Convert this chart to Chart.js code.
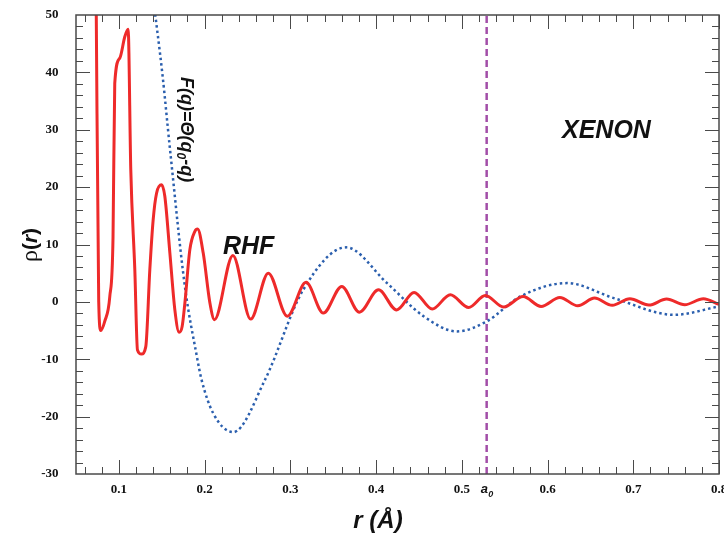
<!DOCTYPE html>
<html>
<head>
<meta charset="utf-8">
<script src="https://cdn.jsdelivr.net/npm/chart.js@4.4.1/dist/chart.umd.min.js"></script>
<style>
  html, body { margin: 0; padding: 0; background: #fff; }
  canvas { display: block; }
</style>
</head>
<body>
<canvas id="rho-chart" width="724" height="533"></canvas>
<script>
// RHF density oscillations
const rhfR = [0.0735, 0.0765, 0.0789, 0.0835, 0.0894, 0.0932, 0.0952, 0.1011, 0.1069, 0.1108,
    0.1139, 0.1186, 0.1217, 0.1264, 0.1314, 0.1361, 0.1400, 0.1439, 0.1498, 0.1536,
    0.1595, 0.1653, 0.1703, 0.1738, 0.1770, 0.1828, 0.1887, 0.1918, 0.1984, 0.2062,
    0.2115, 0.2330, 0.2537, 0.2743, 0.2965, 0.3183, 0.3385, 0.3600, 0.3806, 0.4028,
    0.4240, 0.4443, 0.4655, 0.4866, 0.5080, 0.5274, 0.5488, 0.5715, 0.5925, 0.6143,
    0.6353, 0.6548, 0.6755, 0.6960, 0.7182, 0.7389, 0.7600, 0.7818, 0.8000]
const rhfRho = [53, 0.0, -5.0, -3.4, 0.9, 11.4, 38.1, 42.5, 46.2, 47.5,
    23.0, 5.6, -8.4, -9.1, -7.8, 5.6, 14.3, 18.9, 20.4, 18.4,
    8.5, -1.4, -5.3, -4.3, -0.2, 9.1, 12.3, 12.7, 8.5, -0.2,
    -3.1, 8.1, -3.0, 5.0, -2.5, 3.4, -1.95, 2.7, -1.8, 2.1,
    -1.4, 1.65, -1.25, 1.25, -0.98, 1.11, -0.9, 0.94, -0.8, 0.77,
    -0.68, 0.66, -0.6, 0.54, -0.56, 0.49, -0.5, 0.54, -0.45]

// step function F(q) = Theta(q0 - q) curve
const stepR = [0.1400, 0.1510, 0.1595, 0.1770, 0.1907, 0.1965, 0.2100, 0.2334, 0.2704, 0.3150,
    0.3651, 0.4126, 0.4554, 0.4944, 0.5290, 0.5683, 0.6229, 0.6773, 0.7474, 0.8000]
const stepRho = [53, 39.4, 26.8, 2.7, -9.3, -13.6, -19.4, -22.7, -13.6, 2.1,
    9.5, 3.3, -2.5, -5.15, -3.4, 0.94, 3.27, 0.66, -2.25, -0.8]

const bohrRadius = 0.529
const xTicks = [0.1, 0.2, 0.3, 0.4, 0.5, 0.6, 0.7, 0.8]
const yTicks = [-30, -20, -10, 0, 10, 20, 30, 40, 50]

const toPoints = (xs, ys) => xs.map((x, i) => ({ x: x, y: ys[i] }))

const frameColor = '#4a4a4a'

const decorPlugin = {
    id: 'decor',
    afterDatasetsDraw(chart) {
        const ctx = chart.ctx
        const a = chart.chartArea
        const xs = chart.scales.x
        const ys = chart.scales.y
        ctx.save()

        // inward ticks on all four sides
        ctx.strokeStyle = frameColor
        ctx.lineWidth = 1
        ctx.beginPath()
        for (let v = 0.06; v < 0.8001; v += 0.02) {
            const px = Math.round(xs.getPixelForValue(v)) + 0.5
            const major = Math.abs(v * 10 - Math.round(v * 10)) < 1e-6
            const len = major ? 14 : 7
            ctx.moveTo(px, a.bottom); ctx.lineTo(px, a.bottom - len)
            ctx.moveTo(px, a.top); ctx.lineTo(px, a.top + len)
        }
        for (let v = -28; v <= 48; v += 2) {
            const py = Math.round(ys.getPixelForValue(v)) + 0.5
            const len = v % 10 === 0 ? 14 : 7
            ctx.moveTo(a.left, py); ctx.lineTo(a.left + len, py)
            ctx.moveTo(a.right, py); ctx.lineTo(a.right - len, py)
        }
        ctx.stroke()

        // frame
        ctx.lineWidth = 1.5
        ctx.strokeRect(a.left, a.top, a.right - a.left, a.bottom - a.top)

        // tick labels
        ctx.fillStyle = '#111'
        ctx.font = 'bold 13px "Liberation Serif"'
        ctx.textAlign = 'right'
        ctx.textBaseline = 'middle'
        yTicks.forEach(v => ctx.fillText(String(v), 58.5, ys.getPixelForValue(v)))
        ctx.textAlign = 'center'
        xTicks.forEach(v => ctx.fillText(v.toFixed(1), xs.getPixelForValue(v), 490))

        // a0 label under the dashed line
        const ax = xs.getPixelForValue(bohrRadius)
        ctx.font = 'italic bold 13px "Liberation Sans"'
        ctx.textAlign = 'left'
        ctx.textBaseline = 'alphabetic'
        ctx.fillText('a', ax - 6, 493)
        ctx.font = 'italic bold 9px "Liberation Sans"'
        ctx.fillText('0', ax + 1.5, 497)

        // axis titles
        ctx.font = 'italic bold 24px "Liberation Sans"'
        ctx.textAlign = 'center'
        ctx.fillText('r (\u00C5)', 378, 528)

        ctx.save()
        ctx.translate(37, 245)
        ctx.rotate(-Math.PI / 2)
        ctx.textAlign = 'left'
        ctx.font = '24px "Liberation Serif"'
        const rhoW = ctx.measureText('\u03C1').width
        ctx.font = 'bold 21px "Liberation Sans"'
        const parW = ctx.measureText('(').width
        ctx.font = 'italic bold 21px "Liberation Sans"'
        const rW = ctx.measureText('r').width
        const total = rhoW + parW * 2 + rW
        let cx = -total / 2
        ctx.font = '24px "Liberation Serif"'
        ctx.fillText('\u03C1', cx, 0); cx += rhoW
        ctx.font = 'bold 21px "Liberation Sans"'
        ctx.fillText('(', cx, 0); cx += parW
        ctx.font = 'italic bold 21px "Liberation Sans"'
        ctx.fillText('r', cx, 0); cx += rW
        ctx.font = 'bold 21px "Liberation Sans"'
        ctx.fillText(')', cx, 0)
        ctx.restore()

        // in-plot annotations
        ctx.font = 'italic bold 25px "Liberation Sans"'
        ctx.textAlign = 'left'
        ctx.fillText('RHF', 223, 254)
        ctx.fillText('XENON', 562, 138)

        ctx.save()
        ctx.translate(180.5, 77)
        ctx.rotate(Math.PI / 2)
        ctx.textAlign = 'left'
        const big = 'italic bold 18px "Liberation Sans"'
        const small = 'italic bold 12px "Liberation Sans"'
        let tx = 0
        const put = (s, f, dy) => {
            ctx.font = f
            ctx.fillText(s, tx, dy)
            tx += ctx.measureText(s).width
        }
        put('F(q)=\u0398(q', big, 0)
        put('0', small, 4)
        put('-q)', big, 0)
        ctx.restore()

        ctx.restore()
    }
}

const ctx = document.getElementById('rho-chart')
const rhoChart = new Chart(ctx, {
    type: 'line',
    data: {
        datasets: [{
            label: 'RHF',
            data: toPoints(rhfR, rhfRho),
            borderColor: '#ee2a2a',
            borderWidth: 3,
            pointRadius: 0,
            fill: false,
            cubicInterpolationMode: 'monotone'
        }, {
            label: 'F(q)',
            data: toPoints(stepR, stepRho),
            borderColor: '#2b5fae',
            borderWidth: 2.5,
            borderDash: [2.5, 3],
            pointRadius: 0,
            fill: false,
            cubicInterpolationMode: 'monotone'
        }, {
            label: 'a0',
            data: [{ x: bohrRadius, y: -30 }, { x: bohrRadius, y: 50 }],
            borderColor: '#a24ea8',
            borderWidth: 2.5,
            borderDash: [7, 4],
            pointRadius: 0,
            fill: false
        }]
    },
    options: {
        responsive: false,
        animation: false,
        devicePixelRatio: 1,
        layout: { padding: { left: 76, right: 5, top: 15, bottom: 59 } },
        plugins: { legend: { display: false }, tooltip: { enabled: false } },
        scales: {
            x: { type: 'linear', min: 0.05, max: 0.8, display: false },
            y: { type: 'linear', min: -30, max: 50, display: false }
        }
    },
    plugins: [decorPlugin]
})
</script>
</body>
</html>
